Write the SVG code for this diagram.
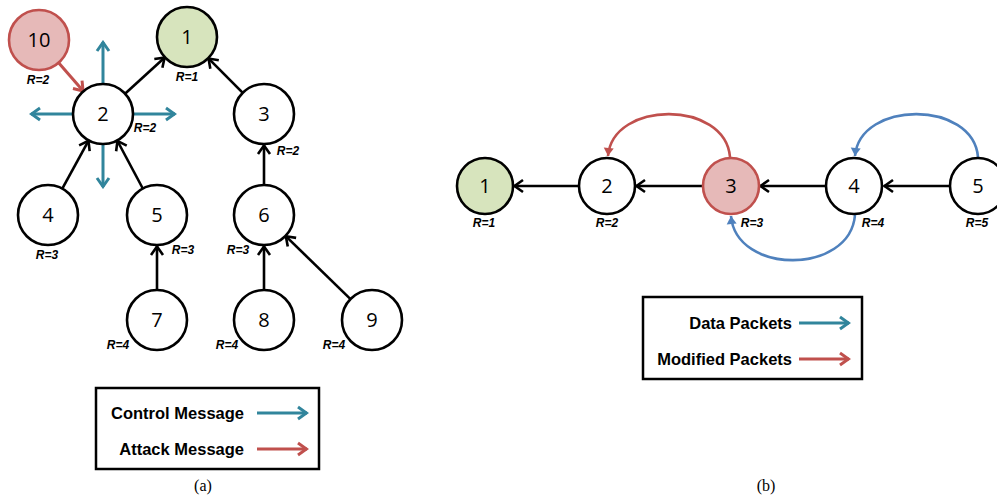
<svg xmlns="http://www.w3.org/2000/svg" width="997" height="496" viewBox="0 0 997 496">
<style>
.n{fill:#fff;stroke:#000;stroke-width:2.6}
.g{fill:#D7E4BD;stroke:#000;stroke-width:2.6}
.r{fill:#E6B9B8;stroke:#C0504D;stroke-width:2.6}
.t{font-family:"Open Sans","Liberation Sans",sans-serif;font-size:20px;text-anchor:middle;fill:#000}
.lb{font-family:"Liberation Sans",Arial,sans-serif;font-size:12px;font-weight:bold;font-style:italic;text-anchor:middle;fill:#000}
.lg{font-family:"Liberation Sans",Arial,sans-serif;font-size:16.5px;font-weight:bold;text-anchor:end;fill:#000}
.cap{font-family:"Liberation Serif","Times New Roman",serif;font-size:16px;text-anchor:middle;fill:#000}
.k{stroke:#000;stroke-width:2.6;fill:none;marker-end:url(#ak)}
.c{stroke:#31859C;stroke-width:3;fill:none;marker-end:url(#ac)}
.rd{stroke:#C0504D;stroke-width:3;fill:none;marker-end:url(#ar)}
.bl{stroke:#4F81BD;stroke-width:2.6;fill:none;marker-end:url(#ab)}
.rc{stroke:#C0504D;stroke-width:2.6;fill:none;marker-end:url(#arf)}
.box{fill:#fff;stroke:#000;stroke-width:2.5}
</style>
<defs>
<marker id="ak" markerUnits="userSpaceOnUse" viewBox="-12 -8 14 16" refX="0" refY="0" markerWidth="14" markerHeight="16" orient="auto"><path d="M-9,-6 L-0.5,0 L-9,6" fill="none" stroke="#000" stroke-width="2.6"/></marker>
<marker id="ac" markerUnits="userSpaceOnUse" viewBox="-12 -8 14 16" refX="0" refY="0" markerWidth="14" markerHeight="16" orient="auto"><path d="M-9,-6 L-0.5,0 L-9,6" fill="none" stroke="#31859C" stroke-width="3"/></marker>
<marker id="ar" markerUnits="userSpaceOnUse" viewBox="-12 -8 14 16" refX="0" refY="0" markerWidth="14" markerHeight="16" orient="auto"><path d="M-9,-6 L-0.5,0 L-9,6" fill="none" stroke="#C0504D" stroke-width="3"/></marker>
<marker id="ab" markerUnits="userSpaceOnUse" viewBox="-10 -6 11 12" refX="0" refY="0" markerWidth="11" markerHeight="12" orient="auto"><path d="M-8,-5 L0,0 L-8,5 Z" fill="#4F81BD"/></marker>
<marker id="arf" markerUnits="userSpaceOnUse" viewBox="-10 -6 11 12" refX="0" refY="0" markerWidth="11" markerHeight="12" orient="auto"><path d="M-8,-5 L0,0 L-8,5 Z" fill="#C0504D"/></marker>
</defs>

<g id="connectors">
<line class="k" x1="125" y1="93.7" x2="165" y2="57.3"/>
<line class="k" x1="242.8" y1="92.8" x2="208.2" y2="58.2"/>
<line class="rd" x1="58.6" y1="62.7" x2="83.4" y2="91.3"/>
<line class="k" x1="62.3" y1="188.7" x2="88.7" y2="140.3"/>
<line class="k" x1="142.8" y1="188.5" x2="117.2" y2="140.5"/>
<line class="k" x1="264" y1="185" x2="264" y2="145"/>
<line class="k" x1="157" y1="290" x2="157" y2="246"/>
<line class="k" x1="264" y1="290" x2="264" y2="246"/>
<line class="k" x1="350.5" y1="299.1" x2="285.5" y2="235.9"/>
<line class="c" x1="103" y1="84" x2="103" y2="42"/>
<line class="c" x1="73" y1="114" x2="31" y2="114"/>
<line class="c" x1="133" y1="114" x2="175" y2="114"/>
<line class="c" x1="103" y1="144" x2="103" y2="187"/>
<line class="k" x1="578" y1="186" x2="514" y2="186"/>
<line class="k" x1="703" y1="186" x2="636" y2="186"/>
<line class="k" x1="826" y1="186" x2="760" y2="186"/>
<line class="k" x1="950" y1="186" x2="884" y2="186"/>
<path class="rc" d="M730,157 C725,100 613,100 608,156"/>
<path class="bl" d="M978,157 C973,100 860,100 855,156"/>
<path class="bl" d="M855,215 C850,275 736,275 731,216"/>
</g>

<g id="node-a10"><circle class="r" cx="39" cy="40" r="30"/><text class="t" x="39" y="47">10</text><text class="lb" x="38" y="84">R=2</text></g>
<g id="node-a1"><circle class="g" cx="187" cy="37" r="30"/><text class="t" x="187" y="44">1</text><text class="lb" x="187" y="81">R=1</text></g>
<g id="node-a2"><circle class="n" cx="103" cy="114" r="30"/><text class="t" x="103" y="121">2</text><text class="lb" x="145" y="132">R=2</text></g>
<g id="node-a3"><circle class="n" cx="264" cy="114" r="30"/><text class="t" x="264" y="121">3</text><text class="lb" x="288" y="155">R=2</text></g>
<g id="node-a4"><circle class="n" cx="48" cy="215" r="30"/><text class="t" x="48" y="222">4</text><text class="lb" x="47" y="259">R=3</text></g>
<g id="node-a5"><circle class="n" cx="157" cy="215" r="30"/><text class="t" x="157" y="222">5</text><text class="lb" x="183" y="254">R=3</text></g>
<g id="node-a6"><circle class="n" cx="264" cy="215" r="30"/><text class="t" x="264" y="222">6</text><text class="lb" x="238" y="254">R=3</text></g>
<g id="node-a7"><circle class="n" cx="157" cy="320" r="30"/><text class="t" x="157" y="327">7</text><text class="lb" x="118" y="349">R=4</text></g>
<g id="node-a8"><circle class="n" cx="264" cy="320" r="30"/><text class="t" x="264" y="327">8</text><text class="lb" x="227" y="349">R=4</text></g>
<g id="node-a9"><circle class="n" cx="372" cy="320" r="30"/><text class="t" x="372" y="327">9</text><text class="lb" x="334" y="349">R=4</text></g>

<g id="legend-a">
<rect class="box" x="96" y="388" width="223" height="81"/>
<text class="lg" x="244" y="419">Control Message</text>
<line class="c" x1="257" y1="413" x2="307" y2="413"/>
<text class="lg" x="244" y="455">Attack Message</text>
<line class="rd" x1="257" y1="449" x2="307" y2="449"/>
</g>
<text class="cap" x="203" y="491">(a)</text>

<g id="node-b1"><circle class="g" cx="485" cy="186" r="28"/><text class="t" x="485" y="193">1</text><text class="lb" x="484" y="227">R=1</text></g>
<g id="node-b2"><circle class="n" cx="607" cy="186" r="28"/><text class="t" x="607" y="193">2</text><text class="lb" x="607" y="227">R=2</text></g>
<g id="node-b3"><circle class="r" cx="731" cy="186" r="28"/><text class="t" x="731" y="193">3</text><text class="lb" x="752" y="227">R=3</text></g>
<g id="node-b4"><circle class="n" cx="854" cy="186" r="28"/><text class="t" x="854" y="193">4</text><text class="lb" x="873" y="227">R=4</text></g>
<g id="node-b5"><circle class="n" cx="978" cy="186" r="28"/><text class="t" x="978" y="193">5</text><text class="lb" x="977" y="227">R=5</text></g>

<g id="legend-b">
<rect class="box" x="643" y="297" width="219" height="82"/>
<text class="lg" x="792" y="329">Data Packets</text>
<line class="c" x1="799" y1="323" x2="849" y2="323"/>
<text class="lg" x="792" y="365">Modified Packets</text>
<line class="rd" x1="799" y1="359" x2="849" y2="359"/>
</g>
<text class="cap" x="766" y="491">(b)</text>
</svg>
